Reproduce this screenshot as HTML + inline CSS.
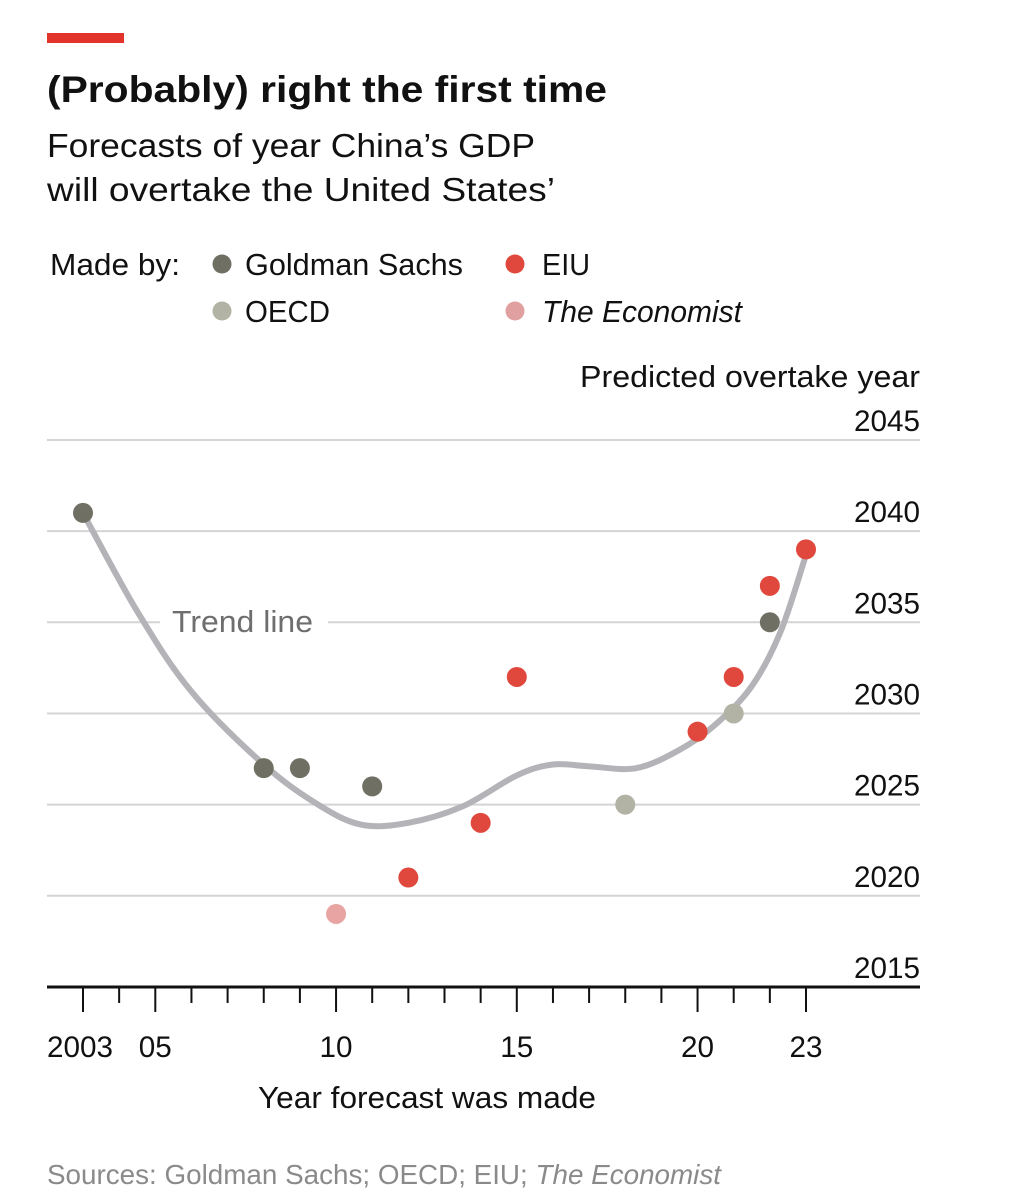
<!DOCTYPE html>
<html><head><meta charset="utf-8"><style>
html,body{margin:0;padding:0;background:#fff;}
svg{display:block;font-family:"Liberation Sans",sans-serif;}
</style></head><body>
<svg id="chart" width="1017" height="1200" viewBox="0 0 1017 1200" xmlns="http://www.w3.org/2000/svg">
<rect x="47" y="33" width="77" height="10" fill="#e3342b"/>
<text x="47" y="102" font-size="37" font-weight="bold" fill="#111" textLength="560" lengthAdjust="spacingAndGlyphs">(Probably) right the first time</text>
<text x="47" y="157" font-size="33" fill="#111" textLength="488" lengthAdjust="spacingAndGlyphs">Forecasts of year China’s GDP</text>
<text x="47" y="201" font-size="33" fill="#111" textLength="508" lengthAdjust="spacingAndGlyphs">will overtake the United States’</text>
<g font-size="31" fill="#111">
<text x="50" y="275" textLength="130" lengthAdjust="spacingAndGlyphs">Made by:</text>
<circle cx="222" cy="264" r="9.5" fill="#706f64"/>
<text x="245" y="275" textLength="218" lengthAdjust="spacingAndGlyphs">Goldman Sachs</text>
<circle cx="515" cy="264" r="9.5" fill="#e0483e"/>
<text x="542" y="275" textLength="48" lengthAdjust="spacingAndGlyphs">EIU</text>
<circle cx="222" cy="311" r="9.5" fill="#b2b3a5"/>
<text x="245" y="322" textLength="85" lengthAdjust="spacingAndGlyphs">OECD</text>
<circle cx="515" cy="311" r="9.5" fill="#e0a0a0"/>
<text x="542" y="322" font-style="italic" textLength="200" lengthAdjust="spacingAndGlyphs">The Economist</text>
</g>
<text x="920" y="387" font-size="31" fill="#111" text-anchor="end" textLength="340" lengthAdjust="spacingAndGlyphs">Predicted overtake year</text>
<g id="grid"></g>
<g id="trend"></g>
<g id="xaxis"></g>
<g id="points"></g>
<text x="258" y="1108" font-size="31" fill="#111" textLength="338" lengthAdjust="spacingAndGlyphs">Year forecast was made</text>
<text x="47" y="1184" font-size="28" fill="#8a8a8a" textLength="674" lengthAdjust="spacingAndGlyphs">Sources: Goldman Sachs; OECD; EIU; <tspan font-style="italic">The Economist</tspan></text>
</svg>
<script>
const yTicks=[2015,2020,2025,2030,2035,2040,2045];
const xMajor=[2003,2005,2010,2015,2020,2023];
const xMajorLabels=["2003","05","10","15","20","23"];
const gsYears=[2003,2008,2009,2011,2022];
const gsValues=[2041,2027,2027,2026,2035];
const oecdYears=[2018,2021];
const oecdValues=[2025,2030];
const eiuYears=[2012,2014,2015,2020,2021,2022,2023];
const eiuValues=[2021,2024,2032,2029,2032,2037,2039];
const econYears=[2010];
const econValues=[2019];
const trendYears=[2003,2004.5,2006,2008,2009.5,2010.7,2012,2013.5,2015,2016,2017,2018.3,2019.5,2020.5,2021.5,2022.3,2023];
const trendValues=[2041,2035.6,2031.2,2027.2,2025,2023.9,2024,2024.9,2026.6,2027.2,2027.1,2027,2028,2029.4,2031.5,2034.5,2038.7];

const NS="http://www.w3.org/2000/svg";
const x=v=>83+(v-2003)*36.15;
const y=v=>440+(2045-v)*18.23;
function el(t,a,p){const e=document.createElementNS(NS,t);for(const k in a)e.setAttribute(k,a[k]);p.appendChild(e);return e;}
const grid=document.getElementById('grid');
yTicks.forEach(v=>{
  if(v!==2015){const l=el('line',{x1:47,x2:920,y1:y(v),y2:y(v),stroke:'#d4d4d4','stroke-width':2},grid);
  
  }
  const t=el('text',{x:920,y:y(v)-9,'font-size':30,'text-anchor':'end',fill:'#111',textLength:66,lengthAdjust:'spacingAndGlyphs'},grid);
  t.textContent=v;
  
  
});
const tr=document.getElementById('trend');
const tb=el('rect',{x:160,y:605,width:168,height:34,fill:'#fff'},tr);


const pts=trendYears.map((t,i)=>[x(t),y(trendValues[i])]);
let d='M'+pts[0][0]+','+pts[0][1];
for(let i=0;i<pts.length-1;i++){
  const p0=pts[i-1]||pts[i],p1=pts[i],p2=pts[i+1],p3=pts[i+2]||p2;
  const c1=[p1[0]+(p2[0]-p0[0])/6,p1[1]+(p2[1]-p0[1])/6];
  const c2=[p2[0]-(p3[0]-p1[0])/6,p2[1]-(p3[1]-p1[1])/6];
  d+=' C'+c1+' '+c2+' '+p2;
}
const tp=el('path',{d:d,fill:'none',stroke:'#b4b4b8','stroke-width':6,'stroke-linecap':'round'},tr);


const tl=el('text',{x:172,y:632,'font-size':31,fill:'#6e6e6e',textLength:141,lengthAdjust:'spacingAndGlyphs'},tr);
tl.textContent='Trend line';


const xa=document.getElementById('xaxis');
for(let yr=2003;yr<=2023;yr++){
  const major=xMajor.includes(yr);
  const tk=el('line',{x1:x(yr),x2:x(yr),y1:987,y2:major?1012:1003,stroke:'#111','stroke-width':2},xa);
  
  
}
const ax=el('line',{x1:47,x2:920,y1:987,y2:987,stroke:'#111','stroke-width':3},xa);


xMajor.forEach((yr,i)=>{
  const lab=xMajorLabels[i];
  const w=lab.length*16.5;
  const t=el('text',{x:yr===2003?x(yr)-36:x(yr)-w/2,y:1057,'font-size':30,fill:'#111',textLength:w,lengthAdjust:'spacingAndGlyphs'},xa);
  t.textContent=lab;
  
  
});
const pg=document.getElementById('points');
function series(xs,vs,col,name){xs.forEach((t,i)=>{
  const c=el('circle',{cx:x(t),cy:y(vs[i]),r:10,fill:col},pg);
  
  
});}
series(gsYears,gsValues,'#706f64','goldman');
series(oecdYears,oecdValues,'#b2b3a5','oecd');
series(eiuYears,eiuValues,'#e0483e','eiu');
series(econYears,econValues,'#e8a3a3','economist');
</script>
</body></html>
